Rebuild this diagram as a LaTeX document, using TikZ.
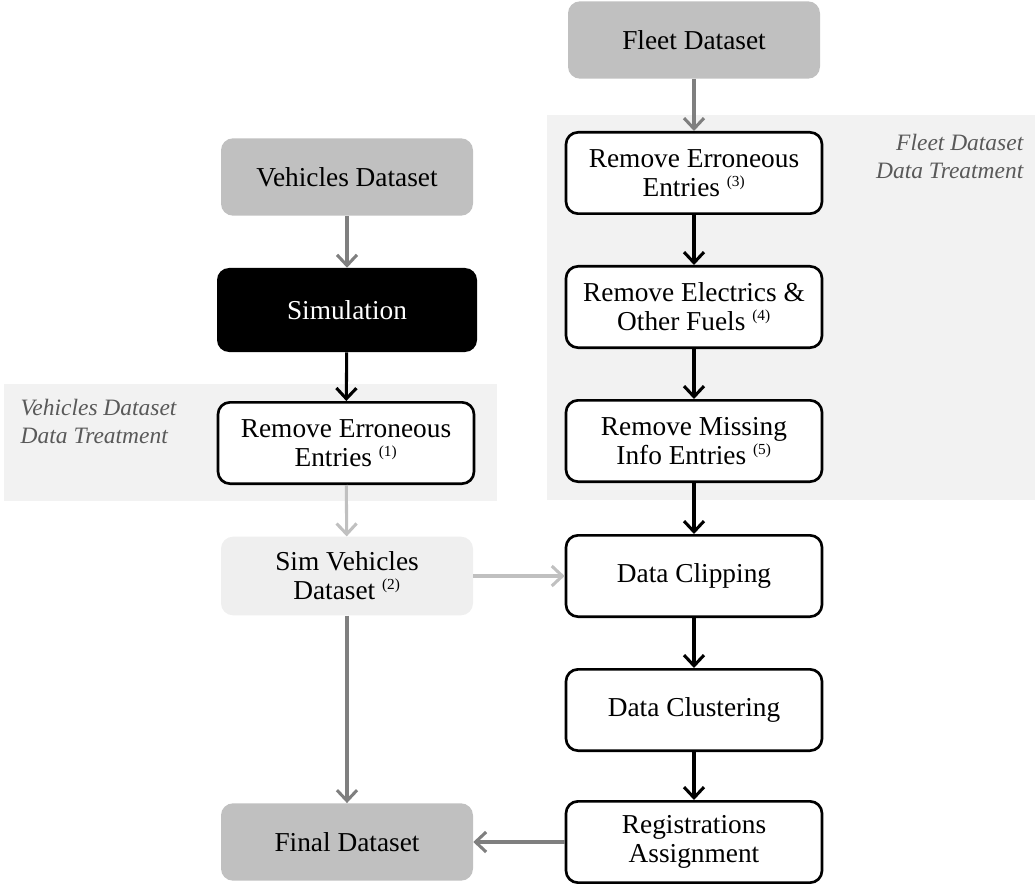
\documentclass[tikz,border=0pt]{standalone}
\usepackage{fontspec}
\setmainfont{Liberation Serif}
\usetikzlibrary{arrows.meta}
\definecolor{boxgray}{HTML}{C0C0C0}
\definecolor{lightbox}{HTML}{EFEFEF}
\definecolor{bggray}{HTML}{F2F2F2}
\definecolor{arrgray}{HTML}{7F7F7F}
\definecolor{arrlight}{HTML}{C0C0C0}
\definecolor{labgray}{HTML}{595959}
\newcommand{\sups}[1]{\textsuperscript{\fontsize{11.5}{11.5}\selectfont(#1)}}
\tikzset{
  base/.style={rounded corners=9pt, align=center, font=\fontsize{20.5}{21.8}\selectfont, inner sep=2pt},
  datab/.style={base, fill=boxgray, minimum width=189pt, minimum height=58pt},
  lightb/.style={base, fill=lightbox, minimum width=189pt, minimum height=59pt},
  procb/.style={base, draw=black, line width=2pt, fill=white, minimum width=192pt, minimum height=61pt},
  simb/.style={base, fill=black, text=white, minimum width=195pt, minimum height=63pt},
  lab/.style={font=\fontsize{17.6}{21}\selectfont\itshape, text=labgray},
  arr/.style={line width=2.3pt, -{Straight Barb[length=8pt,width=15pt,line width=2.3pt]}},
  arrdark/.style={arr, draw=arrgray},
  arrblack/.style={arr, draw=black},
  arrlt/.style={arr, draw=arrlight},
}
\begin{document}
\begin{tikzpicture}[x=0.75pt,y=-0.75pt]
\useasboundingbox (0,0) rectangle (1035,884);
% background areas
\fill[bggray] (4,384) rectangle (497,501);
\fill[bggray] (547,115) rectangle (1035,500);
\node[lab, anchor=west, align=left] (vlab) at (16,421) {Vehicles Dataset\\Data Treatment};
\node[lab, anchor=east, align=right] (flab) at (1028,156) {Fleet Dataset\\Data Treatment};
% left column
\node[datab] (veh) at (347,177) {Vehicles Dataset};
\node[simb] (sim) at (347,310) {Simulation};
\node[procb] (re1) at (346,443) {Remove Erroneous\\Entries \sups{1}};
\node[lightb] (simv) at (347,576) {Sim Vehicles\\Dataset \sups{2}};
\node[datab] (fin) at (347,842) {Final Dataset};
% right column
\node[datab] (fleet) at (694,40) {Fleet Dataset};
\node[procb] (re3) at (694,173) {Remove Erroneous\\Entries \sups{3}};
\node[procb] (re4) at (694,307) {Remove Electrics \&\\Other Fuels \sups{4}};
\node[procb] (re5) at (694,441) {Remove Missing\\Info Entries \sups{5}};
\node[procb] (clip) at (694,576) {Data Clipping};
\node[procb] (clus) at (694,710) {Data Clustering};
\node[procb] (reg) at (694,842) {Registrations\\Assignment};
% arrows
\draw[arrdark] (veh) -- (sim);
\draw[arrblack] (sim) -- (re1);
\draw[arrlt] (re1) -- (simv);
\draw[arrdark] (simv) -- (fin);
\draw[arrlt] (simv) -- (clip);
\draw[arrdark] (fleet) -- (re3);
\draw[arrblack] (re3) -- (re4);
\draw[arrblack] (re4) -- (re5);
\draw[arrblack] (re5) -- (clip);
\draw[arrblack] (clip) -- (clus);
\draw[arrblack] (clus) -- (reg);
\draw[arrdark] (reg) -- (fin);
\end{tikzpicture}
\end{document}
